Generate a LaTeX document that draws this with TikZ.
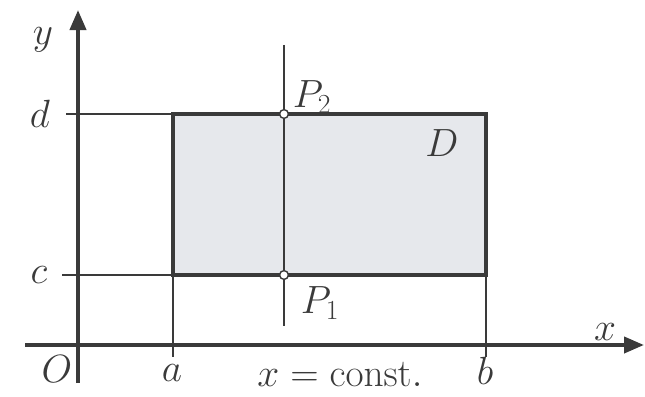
\RequirePackage{fix-cm}
\documentclass[tikz,border=0pt]{standalone}
\usepackage{xcolor}
\usepackage{tikz}
\usetikzlibrary{arrows.meta,positioning}
\definecolor{inkgray}{HTML}{3A3A3A}
\definecolor{regionfill}{HTML}{E6E8EC}

\begin{document}
\begin{tikzpicture}[
  x=0.025cm, y=0.025cm,
  axis_line/.style={draw=inkgray, line width=2.8pt, -{Triangle[length=5mm, width=4mm]}},
  thin_line/.style={draw=inkgray, line width=1.9pt},
  rect_box/.style ={draw=inkgray, line width=3.4pt},
  pt_dot/.style   ={circle, draw=inkgray, fill=white, line width=1pt, inner sep=0pt, minimum size=2.2mm},
  lbl/.style      ={font=\fontsize{28}{32}\selectfont, inner sep=1pt, text=inkgray},
]
  \useasboundingbox (0,0) rectangle (645,396);

  % points of the picture
  \coordinate (ybot) at (78,13);
  \coordinate (ytop) at (78,386);
  \coordinate (xleft) at (25,51);
  \coordinate (xright) at (644,51);
  \coordinate (dleft) at (66,282);
  \coordinate (cleft) at (62,121);
  \coordinate (ac) at (173,121);
  \coordinate (ad) at (173,282);
  \coordinate (bc) at (486,121);
  \coordinate (bd) at (486,282);
  \coordinate (atick) at (173,39);
  \coordinate (btick) at (486,39);
  \coordinate (ptop) at (284,351);
  \coordinate (pbot) at (284,70);

  \fill[regionfill] (ac) rectangle (bd);

  \draw[thin_line] (dleft) -- (ad);
  \draw[thin_line] (cleft) -- (ac);
  \draw[thin_line] (ac) -- (atick);
  \draw[thin_line] (bc) -- (btick);
  \draw[thin_line] (ptop) -- (pbot);

  \draw[rect_box] (ac) rectangle (bd);

  \draw[axis_line] (xleft) -- (xright);
  \draw[axis_line] (ybot) -- (ytop);

  \node[pt_dot] (p2) at (284,282) {};
  \node[pt_dot] (p1) at (284,121) {};

  \node[lbl] (ylab) at (43,356) {$y$};
  \node[lbl] (xlab) at (605,64) {$x$};
  \node[lbl] (dlab) at (40,282) {$d$};
  \node[lbl] (clab) at (39,121) {$c$};
  \node[lbl] (olab) at (57,27) {$O$};
  \node[lbl] (alab) at (172,23) {$a$};
  \node[lbl] (blab) at (485,25) {$b$};
  \node[lbl] (xconst) at (340,22) {$x=\mathrm{const.}$};
  \node[lbl] (p1lab) at (320,93) {$P_1$};
  \node[lbl] (p2lab) at (312,299) {$P_2$};
  \node[lbl] (dreg) at (442,253) {$D$};
\end{tikzpicture}
\end{document}
